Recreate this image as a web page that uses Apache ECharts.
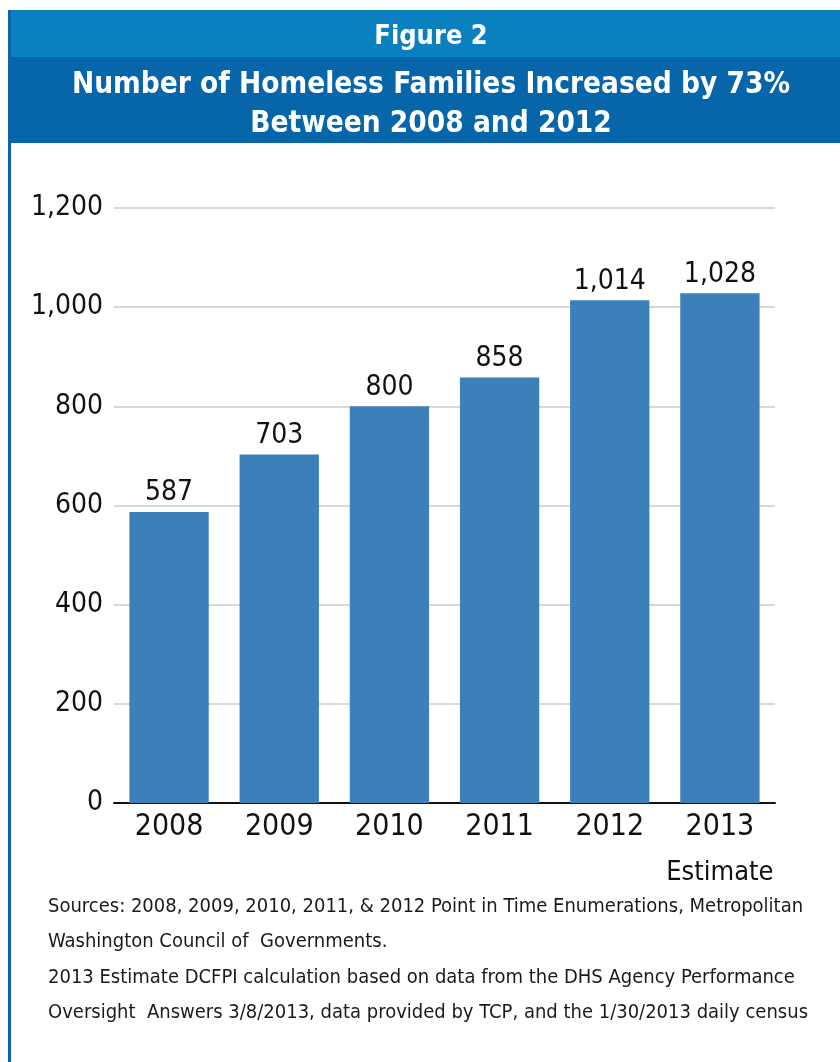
<!DOCTYPE html>
<html>
<head>
<meta charset="utf-8">
<script src="https://cdn.jsdelivr.net/npm/echarts@6/dist/echarts.min.js"></script>
<style>
  html, body { margin: 0; padding: 0; background: #fff; }
  #chart { width: 840px; height: 1062px; }
</style>
</head>
<body>
<div id="chart"></div>
<script>
const years = ['2008', '2009', '2010', '2011', '2012', '2013\nEstimate'];
const families = [587, 703, 800, 858, 1014, 1028];
const yTicks = [0, 200, 400, 600, 800, 1000, 1200];

const figureLabel = 'Figure 2';
const titleLines = 'Number of Homeless Families Increased by 73%\nBetween 2008 and 2012';
const sourceNote = [
  'Sources: 2008, 2009, 2010, 2011, & 2012 Point in Time Enumerations, Metropolitan',
  'Washington Council of  Governments.',
  '2013 Estimate DCFPI calculation based on data from the DHS Agency Performance',
  'Oversight  Answers 3/8/2013, data provided by TCP, and the 1/30/2013 daily census'
];

const NARROW = "'DejaVu Sans Condensed', 'Liberation Sans Narrow', sans-serif";
const fmt = v => v.toLocaleString('en-US');

// first line of a category = year, second line (if any) = note, a bit smaller
const yearLabel = v => v.split('\n').map((s, i) => i ? `{note|${s}}` : `{yr|${s}}`).join('\n');

const chart = echarts.init(document.getElementById('chart'));

chart.setOption({
  backgroundColor: '#fff',
  animation: false,
  graphic: [
    { type: 'rect', shape: { x: 8, y: 10, width: 832, height: 48 }, style: { fill: '#0a80bf' }, z: -5 },
    { type: 'rect', shape: { x: 8, y: 57, width: 832, height: 86 }, style: { fill: '#0765a9' }, z: -5 },
    { type: 'rect', shape: { x: 8, y: 10, width: 3, height: 1052 }, style: { fill: '#0d63ad' }, z: -4 }
  ],
  title: [
    {
      text: figureLabel,
      left: 426, top: 18, textAlign: 'center',
      textStyle: { color: '#fff', fontFamily: NARROW, fontSize: 27, fontWeight: 'bold' }
    },
    {
      text: titleLines,
      left: 426, top: 61, textAlign: 'center',
      textStyle: { color: '#fff', fontFamily: NARROW, fontSize: 29.5, fontWeight: 'bold', lineHeight: 39 }
    },
    {
      text: sourceNote.join('\n'),
      left: 43, top: 884,
      textStyle: { color: '#1a1a1a', fontFamily: NARROW, fontSize: 20, fontWeight: 'normal', lineHeight: 35.5 }
    }
  ],
  grid: { left: 114, right: 65, top: 208, bottom: 259 },
  xAxis: {
    type: 'category',
    data: years,
    axisLine: { lineStyle: { color: '#111', width: 2 } },
    axisTick: { show: false },
    axisLabel: {
      interval: 0,
      margin: 2,
      verticalAlign: 'top',
      formatter: yearLabel,
      rich: {
        yr: { color: '#111', fontFamily: NARROW, fontSize: 30, lineHeight: 45 },
        note: { color: '#111', fontFamily: NARROW, fontSize: 27, lineHeight: 45 }
      }
    }
  },
  yAxis: {
    type: 'value',
    min: yTicks[0],
    max: yTicks[yTicks.length - 1],
    interval: 200,
    axisLine: { show: false },
    axisTick: { show: false },
    splitLine: { lineStyle: { color: '#cccccc', width: 1.5 } },
    axisLabel: {
      color: '#111', fontFamily: NARROW, fontSize: 28, margin: 11,
      formatter: v => fmt(v)
    }
  },
  series: [{
    type: 'bar',
    data: families,
    barCategoryGap: '28%',
    itemStyle: { color: '#3d7fb9' },
    label: {
      show: true, position: 'top', distance: 5,
      color: '#111', fontFamily: NARROW, fontSize: 28,
      formatter: p => fmt(p.value)
    }
  }]
});
</script>
</body>
</html>
